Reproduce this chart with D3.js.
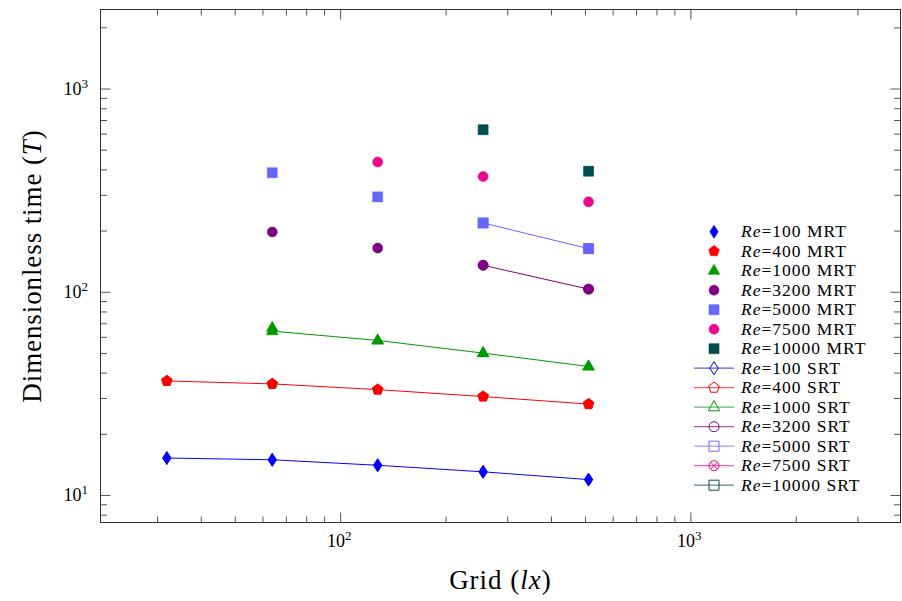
<!DOCTYPE html>
<html>
<head>
<meta charset="utf-8">
<script src="https://cdn.jsdelivr.net/npm/d3@7"></script>
<style>
  body { margin: 0; background: #fff; }
  svg { display: block; }
  text { font-family: "Liberation Serif", "DejaVu Serif", serif; fill: #000; }
  .tick line { stroke: #555; }
</style>
</head>
<body>
<svg id="chart" width="902" height="601"></svg>
<script>
// grid sizes (lx)
var grids = [32, 64, 128, 256, 512];

// MRT values (filled markers)
var mrt100   = [15.2, 14.9, 14.0, 13.0, 11.9];
var mrt400   = [36.4, 35.2, 33.0, 30.5, 28.0];
var mrt1000  = [66.5, 57.6, 49.9, 42.9];
var mrt3200  = [197, 164, 135, 103];
var mrt5000  = [385, 293, 218, 163];
var mrt7500  = [435, 369, 277];
var mrt10000 = [627, 392];

// SRT values (lines)
var srt100   = [15.2, 14.9, 14.0, 13.0, 11.9];
var srt400   = [36.4, 35.2, 33.0, 30.5, 28.0];
var srt1000  = [64.0, 57.6, 49.9, 42.9];
var srt3200  = [135, 103];
var srt5000  = [218, 163];
var srt7500  = [];
var srt10000 = [];

var xMajor = [100, 1000];
var yMajor = [10, 100, 1000];

var colors = {"100": "#0000ff", "400": "#ff0000", "1000": "#009a00", "3200": "#800080",
              "5000": "#6666ff", "7500": "#ec068d", "10000": "#004d4d"};

function pts(gs, vals) {
  return vals.map(function(v, i) { return {g: gs[i], v: v}; });
}

var mrtSeries = [
  {re: "100",   shape: "diamond",  data: pts(grids, mrt100)},
  {re: "400",   shape: "pentagon", data: pts(grids, mrt400)},
  {re: "1000",  shape: "triangle", data: pts(grids.slice(1), mrt1000)},
  {re: "3200",  shape: "circle",   data: pts(grids.slice(1), mrt3200)},
  {re: "5000",  shape: "square",   data: pts(grids.slice(1), mrt5000)},
  {re: "7500",  shape: "circle",   data: pts(grids.slice(2), mrt7500)},
  {re: "10000", shape: "square",   data: pts(grids.slice(3), mrt10000)}
];
var srtSeries = [
  {re: "100",   shape: "diamond",  data: pts(grids, srt100)},
  {re: "400",   shape: "pentagon", data: pts(grids, srt400)},
  {re: "1000",  shape: "triangle", data: pts(grids.slice(1), srt1000)},
  {re: "3200",  shape: "circle",   data: pts(grids.slice(3), srt3200)},
  {re: "5000",  shape: "square",   data: pts(grids.slice(3), srt5000)},
  {re: "7500",  shape: "otimes",   data: pts(grids.slice(2), srt7500)},
  {re: "10000", shape: "square",   data: pts(grids.slice(3), srt10000)}
];

var svg = d3.select("#chart");
var pLeft = 100.5, pRight = 900.5, pTop = 9.5, pBottom = 522.5;

var x = d3.scaleLog().domain([20.69, 3981]).range([pLeft, pRight]);
var y = d3.scaleLog().domain([7.32, 2449]).range([pBottom, pTop]);

function minorTicks(dom) {
  var out = [];
  for (var e = 0; e <= 4; e++) {
    for (var k = 2; k <= 9; k++) {
      var v = k * Math.pow(10, e);
      if (v >= dom[0] && v <= dom[1]) out.push(v);
    }
  }
  return out;
}

function shapePath(s) {
  if (s == "diamond") return "M0,-6.5L4.2,0L0,6.5L-4.2,0Z";
  if (s == "square") return "M-5,-5H5V5H-5Z";
  if (s == "triangle") return "M0,-6.5L5.8,3.6L-5.8,3.6Z";
  if (s == "pentagon") {
    var p = d3.range(5).map(function(i) {
      var a = -Math.PI / 2 + i * 2 * Math.PI / 5;
      return [5.6 * Math.cos(a), 5.6 * Math.sin(a)];
    });
    return "M" + p.join("L") + "Z";
  }
  if (s == "circle" || s == "otimes") return d3.symbol(d3.symbolCircle, Math.PI * 25)();
  return "";
}

function drawMarker(g, s, color, filled) {
  g.append("path")
    .attr("d", shapePath(s))
    .style("fill", filled ? color : "none")
    .style("stroke", color)
    .style("stroke-width", filled ? 0.6 : 1);
  if (s == "otimes") {
    g.append("path")
      .attr("d", "M-3.5,-3.5L3.5,3.5M-3.5,3.5L3.5,-3.5")
      .style("stroke", color)
      .style("fill", "none");
  }
}

// axes: ticks point inward on all four sides
function addAxis(axisFn, scale, vals, size, transform) {
  svg.append("g")
    .attr("transform", transform)
    .call(axisFn(scale).tickValues(vals).tickSize(size).tickFormat(""))
    .call(function(g) { g.select(".domain").remove(); });
}
var xMinor = minorTicks(x.domain()), yMinor = minorTicks(y.domain());
addAxis(d3.axisBottom, x, xMinor, -6, "translate(0," + pBottom + ")");
addAxis(d3.axisBottom, x, xMajor, -10, "translate(0," + pBottom + ")");
addAxis(d3.axisTop, x, xMinor, -6, "translate(0," + pTop + ")");
addAxis(d3.axisTop, x, xMajor, -10, "translate(0," + pTop + ")");
addAxis(d3.axisLeft, y, yMinor, -6.5, "translate(" + pLeft + ",0)");
addAxis(d3.axisLeft, y, yMajor, -10, "translate(" + pLeft + ",0)");
addAxis(d3.axisRight, y, yMinor, -6.5, "translate(" + pRight + ",0)");
addAxis(d3.axisRight, y, yMajor, -10, "translate(" + pRight + ",0)");

svg.append("rect")
  .attr("x", pLeft).attr("y", pTop)
  .attr("width", pRight - pLeft).attr("height", pBottom - pTop)
  .style("fill", "none").style("stroke", "#333").style("stroke-width", 1);

// tick labels as 10^k
svg.selectAll(".xlab")
  .data(xMajor)
  .enter()
  .append("text")
  .attr("x", function(d) { return x(d) - 1; })
  .attr("y", 547)
  .style("text-anchor", "middle")
  .style("font-size", "18px")
  .each(function(d) {
    var t = d3.select(this);
    t.append("tspan").text("10");
    t.append("tspan").attr("dy", -7.5).style("font-size", "13px").text(Math.round(Math.log10(d)));
  });
svg.selectAll(".ylab")
  .data(yMajor)
  .enter()
  .append("text")
  .attr("x", 88)
  .attr("y", function(d) { return y(d) + 6.5; })
  .style("text-anchor", "end")
  .style("font-size", "18px")
  .each(function(d) {
    var t = d3.select(this);
    t.append("tspan").text("10");
    t.append("tspan").attr("dy", -7.5).style("font-size", "13px").text(Math.round(Math.log10(d)));
  });

// axis titles
var xt = svg.append("text")
  .attr("x", (pLeft + pRight) / 2)
  .attr("y", 589)
  .style("text-anchor", "middle")
  .style("font-size", "27px")
  .style("letter-spacing", "1px");
xt.append("tspan").text("Grid (");
xt.append("tspan").style("font-style", "italic").text("lx");
xt.append("tspan").text(")");

var yt = svg.append("text")
  .attr("transform", "translate(41," + (pTop + pBottom) / 2 + ") rotate(-90)")
  .style("text-anchor", "middle")
  .style("font-size", "27px")
  .style("letter-spacing", "0.9px");
yt.append("tspan").text("Dimensionless time (");
yt.append("tspan").style("font-style", "italic").text("T");
yt.append("tspan").text(")");

var line = d3.line()
  .x(function(d) { return x(d.g); })
  .y(function(d) { return y(d.v); });

// SRT lines
svg.selectAll(".srtline")
  .data(srtSeries)
  .enter()
  .append("path")
  .attr("d", function(d) { return line(d.data); })
  .style("fill", "none")
  .style("stroke", function(d) { return colors[d.re]; })
  .style("stroke-width", 1);

// SRT markers (sit under / beside the MRT ones)
srtSeries.forEach(function(s) {
  s.data.forEach(function(p) {
    var g = svg.append("g").attr("transform", "translate(" + x(p.g) + "," + y(p.v) + ")");
    drawMarker(g, s.shape, colors[s.re], true);
  });
});

// MRT filled markers
mrtSeries.forEach(function(s) {
  s.data.forEach(function(p) {
    var g = svg.append("g").attr("transform", "translate(" + x(p.g) + "," + y(p.v) + ")");
    drawMarker(g, s.shape, colors[s.re], true);
  });
});

// legend
var legX = 714, legY = 231.7, legDy = 19.5;
var legend = mrtSeries.map(function(s) { return {s: s, kind: "MRT"}; })
  .concat(srtSeries.map(function(s) { return {s: s, kind: "SRT"}; }));
legend.forEach(function(d, i) {
  var yy = legY + i * legDy;
  var c = colors[d.s.re];
  if (d.kind == "SRT") {
    svg.append("line")
      .attr("x1", legX - 20).attr("x2", legX + 20)
      .attr("y1", yy).attr("y2", yy)
      .style("stroke", c).style("stroke-opacity", 0.65).style("stroke-width", 1.3);
  }
  var g = svg.append("g").attr("transform", "translate(" + legX + "," + yy + ")");
  drawMarker(g, d.s.shape, c, d.kind == "MRT");
  var t = svg.append("text")
    .attr("x", 741)
    .attr("y", yy + 5.5)
    .style("font-size", "17.5px")
    .style("letter-spacing", "1px");
  t.append("tspan").style("font-style", "italic").text("Re");
  t.append("tspan").text("=" + d.s.re + " " + d.kind);
});
</script>
</body>
</html>
